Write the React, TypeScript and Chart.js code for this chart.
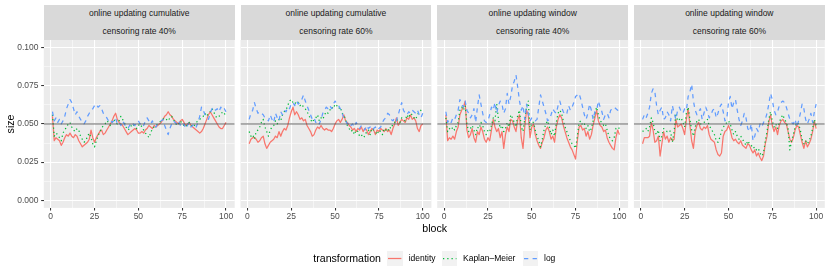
import React, { useEffect, useRef } from "react";
import { Chart, registerables } from "chart.js";

Chart.register(...registerables);

// ---------------- data ----------------
const blocks = Array.from({ length: 100 }, (_, i) => i + 1);

const seriesNames = ["identity", "Kaplan\u2013Meier", "log"];
const methodLabels = [
  "online updating cumulative",
  "online updating cumulative",
  "online updating window",
  "online updating window",
];
const rateLabels = [
  "censoring rate 40%",
  "censoring rate 60%",
  "censoring rate 40%",
  "censoring rate 60%",
];
const xTickLabels = ["0", "25", "50", "75", "100"];
const yTickLabels = ["0.000", "0.025", "0.050", "0.075", "0.100"];
const nominalSize = 0.05;

const cum40Identity = [
  .055, .039, .041, .040, .039, .036, .038, .041, .043, .042,
  .044, .042, .041, .043, .042, .039, .037, .035, .036, .037,
  .038, .040, .046, .041, .038, .041, .043, .045, .046, .043,
  .044, .046, .048, .050, .052, .055, .057, .053, .051, .050,
  .049, .047, .045, .043, .044, .045, .046, .047, .046, .044,
  .044, .045, .044, .046, .047, .049, .048, .047, .049, .048,
  .049, .050, .051, .053, .055, .056, .058, .056, .055, .053,
  .052, .051, .050, .052, .053, .051, .049, .050, .051, .049,
  .048, .047, .046, .045, .044, .045, .047, .050, .053, .056,
  .058, .056, .054, .052, .050, .048, .047, .047, .049, .051,
];
const cum40KM = [
  .056, .042, .044, .043, .041, .039, .044, .046, .048, .050,
  .051, .048, .046, .045, .047, .046, .042, .040, .038, .039,
  .042, .044, .041, .037, .035, .039, .042, .045, .047, .049,
  .050, .052, .051, .049, .051, .053, .051, .050, .052, .055,
  .053, .051, .048, .046, .047, .049, .050, .048, .047, .049,
  .050, .048, .046, .044, .043, .041, .044, .047, .048, .049,
  .050, .051, .052, .053, .054, .053, .052, .054, .055, .053,
  .051, .049, .050, .052, .050, .049, .048, .050, .051, .049,
  .048, .049, .051, .052, .053, .054, .055, .057, .055, .057,
  .058, .060, .058, .055, .054, .055, .056, .058, .057, .055,
];
const cum40Log = [
  .058, .052, .054, .051, .053, .050, .052, .055, .060, .063,
  .066, .064, .060, .056, .058, .055, .053, .051, .050, .052,
  .055, .057, .059, .060, .062, .063, .061, .062, .060, .057,
  .056, .054, .052, .053, .051, .052, .054, .050, .051, .049,
  .052, .050, .048, .047, .049, .051, .050, .049, .051, .052,
  .050, .051, .049, .052, .054, .052, .050, .052, .049, .048,
  .050, .051, .052, .053, .049, .046, .043, .047, .050, .052,
  .051, .050, .052, .049, .048, .050, .047, .049, .051, .048,
  .049, .050, .048, .051, .055, .061, .059, .056, .054, .053,
  .057, .060, .061, .059, .060, .058, .061, .059, .060, .058,
];

const cum60Identity = [
  .037, .040, .041, .041, .040, .038, .039, .041, .042, .037,
  .034, .036, .038, .039, .040, .042, .041, .045, .042, .045,
  .047, .046, .049, .054, .058, .061, .056, .058, .056, .053,
  .054, .052, .053, .049, .047, .045, .042, .043, .046, .048,
  .047, .049, .047, .046, .047, .046, .046, .045, .047, .050,
  .052, .053, .051, .053, .056, .052, .051, .049, .048, .046,
  .047, .045, .047, .046, .048, .045, .047, .046, .043, .045,
  .047, .046, .043, .046, .045, .047, .046, .045, .047, .045,
  .046, .043, .047, .050, .054, .049, .051, .053, .052, .051,
  .054, .053, .056, .053, .054, .052, .047, .045, .049, .050,
];
const cum60KM = [
  .045, .042, .043, .040, .045, .046, .048, .051, .053, .048,
  .045, .042, .046, .048, .049, .052, .050, .053, .052, .056,
  .058, .059, .062, .065, .066, .064, .063, .065, .064, .062,
  .063, .061, .060, .058, .056, .053, .051, .053, .054, .056,
  .052, .054, .053, .056, .058, .057, .059, .061, .060, .063,
  .062, .060, .061, .057, .056, .053, .049, .047, .045, .046,
  .043, .046, .045, .042, .043, .041, .042, .045, .046, .043,
  .047, .046, .045, .043, .046, .045, .043, .047, .046, .045,
  .048, .047, .050, .051, .053, .052, .051, .054, .053, .052,
  .056, .054, .057, .056, .054, .053, .056, .058, .059, .060,
];
const cum60Log = [
  .053, .057, .059, .064, .060, .057, .058, .057, .056, .054,
  .053, .052, .056, .053, .051, .057, .054, .052, .058, .056,
  .059, .058, .061, .060, .063, .064, .062, .065, .063, .064,
  .066, .069, .065, .062, .059, .056, .053, .054, .051, .052,
  .050, .053, .057, .059, .061, .060, .062, .060, .063, .065,
  .063, .062, .060, .057, .054, .052, .050, .051, .049, .050,
  .048, .051, .049, .047, .049, .048, .046, .049, .047, .048,
  .046, .047, .048, .046, .047, .048, .051, .053, .054, .057,
  .056, .053, .052, .054, .052, .056, .060, .064, .059, .057,
  .056, .058, .057, .059, .058, .057, .059, .056, .054, .057,
];

const win40Identity = [
  .056, .039, .041, .040, .042, .040, .045, .048, .056, .059,
  .061, .065, .046, .041, .043, .047, .041, .038, .045, .043,
  .048, .045, .040, .038, .041, .039, .046, .053, .048, .045,
  .047, .041, .045, .034, .043, .048, .045, .053, .052, .048,
  .045, .053, .056, .041, .034, .048, .059, .056, .041, .048,
  .050, .043, .039, .036, .034, .038, .041, .046, .048, .045,
  .040, .042, .038, .048, .053, .056, .054, .049, .045, .041,
  .038, .035, .033, .030, .027, .039, .048, .049, .046, .047,
  .042, .045, .040, .043, .049, .054, .059, .052, .049, .048,
  .045, .046, .041, .038, .036, .034, .033, .041, .046, .043,
];
const win40KM = [
  .054, .045, .047, .046, .048, .046, .049, .051, .059, .061,
  .059, .062, .050, .045, .047, .049, .046, .043, .048, .047,
  .051, .049, .045, .043, .046, .045, .049, .054, .052, .063,
  .053, .047, .049, .045, .047, .051, .048, .056, .054, .051,
  .048, .056, .059, .048, .045, .053, .061, .065, .046, .051,
  .051, .046, .042, .039, .035, .040, .046, .050, .052, .048,
  .043, .046, .042, .051, .057, .059, .057, .052, .048, .045,
  .042, .039, .037, .036, .034, .042, .051, .052, .049, .050,
  .047, .049, .045, .047, .052, .057, .061, .056, .052, .051,
  .049, .050, .046, .042, .040, .039, .041, .047, .048, .047,
];
const win40Log = [
  .058, .051, .053, .051, .054, .053, .056, .059, .066, .063,
  .061, .065, .059, .057, .054, .056, .060, .051, .061, .069,
  .063, .057, .052, .051, .052, .056, .061, .059, .064, .057,
  .062, .065, .063, .057, .060, .070, .063, .068, .075, .078,
  .082, .074, .065, .059, .062, .053, .063, .057, .052, .054,
  .053, .052, .053, .061, .069, .065, .061, .057, .052, .053,
  .056, .060, .058, .057, .062, .065, .061, .058, .056, .057,
  .062, .059, .061, .064, .068, .069, .070, .066, .061, .056,
  .053, .057, .063, .059, .053, .058, .059, .065, .061, .058,
  .053, .056, .057, .054, .059, .060, .061, .060, .059, .058,
];

const win60Identity = [
  .037, .041, .041, .041, .042, .051, .046, .038, .039, .042,
  .029, .037, .045, .040, .042, .038, .041, .039, .040, .053,
  .048, .049, .050, .047, .043, .053, .060, .049, .039, .034,
  .045, .049, .051, .047, .046, .048, .047, .049, .043, .040,
  .039, .038, .033, .030, .029, .031, .042, .045, .046, .049,
  .046, .041, .039, .040, .038, .037, .039, .036, .035, .034,
  .037, .036, .033, .031, .033, .029, .031, .028, .026, .029,
  .037, .042, .051, .056, .049, .045, .048, .043, .049, .052,
  .053, .051, .050, .045, .040, .038, .041, .046, .049, .048,
  .043, .038, .034, .039, .035, .037, .040, .045, .052, .047,
];
const win60KM = [
  .045, .046, .047, .045, .048, .054, .051, .045, .043, .046,
  .039, .042, .047, .046, .045, .046, .045, .038, .045, .057,
  .052, .053, .054, .051, .048, .057, .061, .053, .046, .042,
  .048, .052, .053, .050, .050, .051, .052, .053, .049, .047,
  .045, .043, .039, .038, .041, .045, .048, .049, .051, .052,
  .050, .046, .043, .045, .042, .040, .042, .040, .038, .036,
  .039, .037, .036, .034, .035, .033, .034, .031, .029, .031,
  .039, .045, .053, .058, .052, .048, .050, .047, .051, .054,
  .056, .053, .051, .047, .033, .039, .043, .048, .051, .050,
  .046, .040, .037, .039, .037, .039, .042, .047, .053, .049,
];
const win60Log = [
  .053, .056, .054, .057, .061, .070, .073, .071, .062, .056,
  .059, .061, .053, .054, .058, .056, .052, .062, .057, .053,
  .059, .061, .058, .057, .060, .059, .068, .071, .076, .065,
  .059, .056, .058, .060, .053, .057, .061, .058, .054, .056,
  .059, .060, .054, .057, .061, .063, .058, .052, .053, .064,
  .068, .060, .064, .066, .059, .053, .049, .052, .057, .054,
  .047, .045, .050, .039, .042, .047, .045, .050, .048, .051,
  .053, .057, .063, .070, .066, .059, .056, .058, .062, .064,
  .065, .064, .061, .057, .053, .051, .050, .053, .048, .052,
  .057, .063, .060, .053, .050, .053, .057, .051, .058, .063,
];

const panelSeries = [
  [cum40Identity, cum40KM, cum40Log],
  [cum60Identity, cum60KM, cum60Log],
  [win40Identity, win40KM, win40Log],
  [win60Identity, win60KM, win60Log],
];

// ---------------- styling ----------------
const FONT = '"Liberation Sans", Arial, Helvetica, sans-serif';
const seriesColors = ["#F8766D", "#00BA38", "#619CFF"];
const LW = 1.25;
const seriesDash = [[], [1.25, 3.0], [4.3, 4.3]];

const PANEL_LEFT0 = 43.8;
const PANEL_PITCH = 196.7;
const PANEL_W = 190.9;
const PANEL_TOP = 40;
const PANEL_H = 167.9;
const CANVAS_H = 190;
const STRIP_TOP = 5;
const STRIP_H = 35;

const X_MIN = -3.95;
const X_MAX = 104.95;
const Y_MIN = -0.005;
const Y_MAX = 0.105;

const xMajor = xTickLabels.map((s) => parseFloat(s));
const yMajor = yTickLabels.map((s) => parseFloat(s));
const withMinor = (major: number[]) => {
  const out: number[] = [];
  major.forEach((v, i) => {
    out.push(v);
    if (i < major.length - 1) out.push((v + major[i + 1]) / 2);
  });
  return out;
};
const xGrid = withMinor(xMajor);
const yGrid = withMinor(yMajor);
const isMajor = (list: number[], v: number) => list.some((m) => Math.abs(m - v) < 1e-9);
const labelFor = (list: number[], labels: string[], v: number) => {
  const idx = list.findIndex((m) => Math.abs(m - v) < 1e-9);
  return idx >= 0 ? labels[idx] : "";
};

const panelBg = {
  id: "panelBg",
  beforeDraw(chart: any) {
    const { ctx, chartArea: a } = chart;
    ctx.save();
    ctx.fillStyle = "#EBEBEB";
    ctx.fillRect(a.left, a.top, a.right - a.left, a.bottom - a.top);
    ctx.restore();
  },
};

function geometry(i: number) {
  const pl = PANEL_LEFT0 + i * PANEL_PITCH;
  const canvasLeft = i === 0 ? 0 : Math.floor(pl) - 4;
  const yAxisW = i === 0 ? pl : 0;
  const padLeft = i === 0 ? 0 : pl - canvasLeft;
  const canvasW = Math.ceil(pl + PANEL_W) + 8 - canvasLeft;
  const padRight = canvasW - (pl + PANEL_W - canvasLeft);
  return { pl, canvasLeft, yAxisW, padLeft, canvasW, padRight };
}

function buildConfig(i: number): any {
  const g = geometry(i);
  const series = panelSeries[i];
  const datasets: any[] = series.map((vals, k) => ({
    label: seriesNames[k],
    data: blocks.map((b, j) => ({ x: b, y: vals[j] })),
    borderColor: seriesColors[k],
    borderWidth: LW,
    borderDash: seriesDash[k],
    borderCapStyle: "butt",
    borderJoinStyle: "round",
    pointRadius: 0,
    tension: 0,
    fill: false,
    order: 3 - k,
  }));
  datasets.push({
    label: "nominal",
    data: [
      { x: X_MIN, y: nominalSize },
      { x: X_MAX, y: nominalSize },
    ],
    borderColor: "#555555",
    borderWidth: 0.9,
    pointRadius: 0,
    fill: false,
    order: 0,
  });
  const tickFont = { family: FONT, size: 8.5 };
  return {
    type: "line",
    data: { datasets },
    plugins: [panelBg],
    options: {
      animation: false,
      responsive: false,
      devicePixelRatio: 1,
      events: [],
      layout: { padding: { left: g.padLeft, right: g.padRight, top: 0, bottom: 0 } },
      plugins: { legend: { display: false }, tooltip: { enabled: false } },
      scales: {
        x: {
          type: "linear",
          min: X_MIN,
          max: X_MAX,
          afterBuildTicks: (s: any) => {
            s.ticks = xGrid.map((v) => ({ value: v }));
          },
          afterFit: (s: any) => {
            s.height = CANVAS_H - PANEL_H;
            s.paddingLeft = 0;
            s.paddingRight = 0;
          },
          ticks: {
            autoSkip: false,
            maxRotation: 0,
            minRotation: 0,
            padding: 1,
            color: "#4D4D4D",
            font: tickFont,
            callback: (v: number) => labelFor(xMajor, xTickLabels, v),
          },
          grid: {
            color: "#FFFFFF",
            lineWidth: (c: any) => (c.tick && isMajor(xMajor, c.tick.value) ? 1.07 : 0.53),
            drawTicks: true,
            tickLength: 2.65,
            tickWidth: 1.07,
            tickColor: (c: any) =>
              c.tick && isMajor(xMajor, c.tick.value) ? "#333333" : "rgba(0,0,0,0)",
          },
          border: { display: false },
        },
        y: {
          type: "linear",
          min: Y_MIN,
          max: Y_MAX,
          afterBuildTicks: (s: any) => {
            s.ticks = yGrid.map((v) => ({ value: v }));
          },
          afterFit: (s: any) => {
            s.width = g.yAxisW;
            s.paddingTop = 0;
            s.paddingBottom = 0;
          },
          ticks: {
            display: i === 0,
            autoSkip: false,
            padding: 2.6,
            color: "#4D4D4D",
            font: tickFont,
            callback: (v: number) => labelFor(yMajor, yTickLabels, v),
          },
          grid: {
            color: "#FFFFFF",
            lineWidth: (c: any) => (c.tick && isMajor(yMajor, c.tick.value) ? 1.07 : 0.53),
            drawTicks: i === 0,
            tickLength: i === 0 ? 2.65 : 0,
            tickWidth: 1.07,
            tickColor: (c: any) =>
              c.tick && isMajor(yMajor, c.tick.value) ? "#333333" : "rgba(0,0,0,0)",
          },
          border: { display: false },
        },
      },
    },
  };
}

// ---------------- legend pieces ----------------
const legendKeyLefts = [387.3, 442, 522.7];
const legendLabelLefts = [408.7, 463, 544];

function KeyBox({ k }: { k: number }) {
  return (
    <div
      style={{
        position: "absolute",
        left: legendKeyLefts[k],
        top: 250.7,
        width: 15.4,
        height: 15,
        background: "#F2F2F2",
      }}
    >
      <svg width={15.4} height={15} style={{ position: "absolute", left: 0, top: 0 }}>
        <line
          x1={1}
          y1={7.5}
          x2={14.4}
          y2={7.5}
          stroke={seriesColors[k]}
          strokeWidth={LW}
          strokeDasharray={seriesDash[k].length ? seriesDash[k].join(" ") : undefined}
        />
      </svg>
    </div>
  );
}

export default function App() {
  const canvasRefs = useRef<(HTMLCanvasElement | null)[]>([]);

  useEffect(() => {
    const charts = panelSeries.map((_, i) => new Chart(canvasRefs.current[i] as HTMLCanvasElement, buildConfig(i)));
    return () => charts.forEach((c) => c.destroy());
  }, []);

  return (
    <div
      style={{
        position: "fixed",
        left: 0,
        top: 0,
        width: 830,
        height: 277,
        background: "#FFFFFF",
        fontFamily: FONT,
        overflow: "hidden",
      }}
    >
      {panelSeries.map((_, i) => {
        const g = geometry(i);
        return (
          <React.Fragment key={i}>
            <div
              style={{
                position: "absolute",
                left: g.pl,
                top: STRIP_TOP,
                width: PANEL_W,
                height: STRIP_H,
                background: "#D9D9D9",
                color: "#1A1A1A",
                fontSize: 8.5,
                textAlign: "center",
              }}
            >
              <div style={{ height: STRIP_H / 2, lineHeight: `${STRIP_H / 2}px`, whiteSpace: "nowrap" }}>
                {methodLabels[i]}
              </div>
              <div style={{ height: STRIP_H / 2, lineHeight: `${STRIP_H / 2}px`, whiteSpace: "nowrap" }}>
                {rateLabels[i]}
              </div>
            </div>
            <canvas
              ref={(el) => {
                canvasRefs.current[i] = el;
              }}
              width={g.canvasW}
              height={CANVAS_H}
              style={{
                position: "absolute",
                left: g.canvasLeft,
                top: PANEL_TOP,
                width: g.canvasW,
                height: CANVAS_H,
              }}
            />
          </React.Fragment>
        );
      })}

      <div
        style={{
          position: "absolute",
          left: 10.3 - 30,
          top: PANEL_TOP + PANEL_H / 2 - 7,
          width: 60,
          height: 14,
          lineHeight: "14px",
          fontSize: 10.6,
          color: "#000",
          textAlign: "center",
          transform: "rotate(-90deg)",
        }}
      >
        size
      </div>

      <div
        style={{
          position: "absolute",
          left: 434.7 - 40,
          top: 221,
          width: 80,
          height: 14,
          lineHeight: "14px",
          fontSize: 10.6,
          color: "#000",
          textAlign: "center",
        }}
      >
        block
      </div>

      <div
        style={{
          position: "absolute",
          left: 313.3,
          top: 251,
          height: 14,
          lineHeight: "14px",
          fontSize: 10.6,
          color: "#000",
          whiteSpace: "nowrap",
        }}
      >
        transformation
      </div>
      {seriesNames.map((name, k) => (
        <React.Fragment key={name}>
          <KeyBox k={k} />
          <div
            style={{
              position: "absolute",
              left: legendLabelLefts[k],
              top: 251.5,
              height: 12,
              lineHeight: "12px",
              fontSize: 8.5,
              color: "#000",
              whiteSpace: "nowrap",
            }}
          >
            {name}
          </div>
        </React.Fragment>
      ))}
    </div>
  );
}
